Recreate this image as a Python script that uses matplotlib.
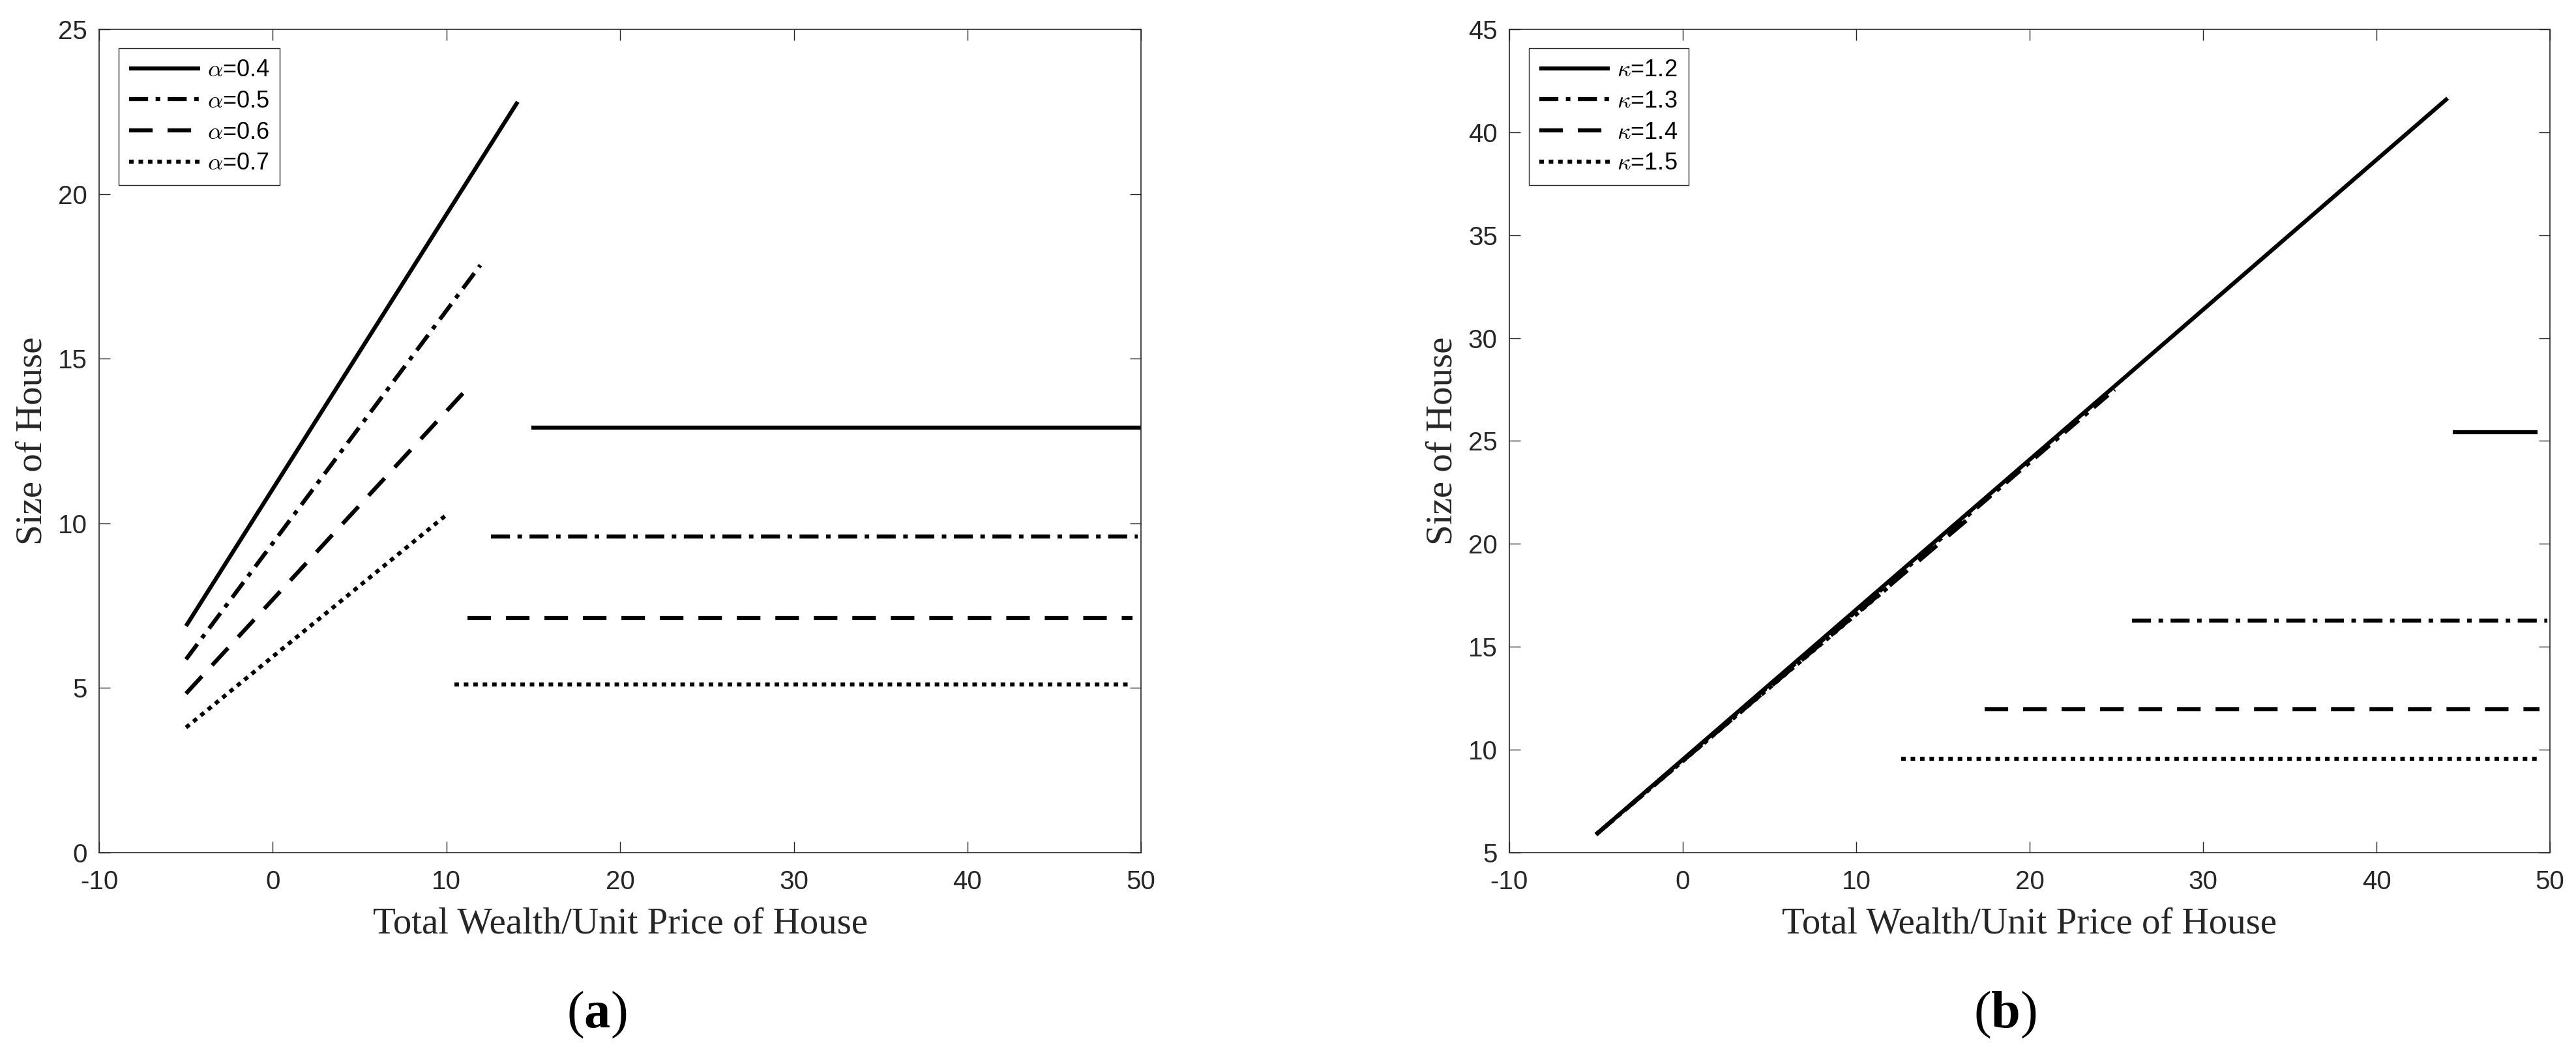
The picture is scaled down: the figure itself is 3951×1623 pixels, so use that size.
import matplotlib

matplotlib.use("Agg")

import matplotlib.pyplot as plt  # noqa: E402

# ---- data ------------------------------------------------------------------
# panel (a): house size vs wealth for several alpha values
ALPHA_LABELS = [r"$\alpha$=0.4", r"$\alpha$=0.5", r"$\alpha$=0.6", r"$\alpha$=0.7"]
A_RISE_X = [(-5.0, 14.1), (-5.0, 11.95), (-5.0, 10.95), (-5.0, 10.1)]
A_RISE_Y = [(6.88, 22.8), (5.87, 17.84), (4.83, 13.95), (3.80, 10.3)]
A_FLAT_X = [(14.9, 50.0), (12.55, 49.8), (11.2, 49.5), (10.45, 49.5)]
A_FLAT_Y = [12.9, 9.59, 7.13, 5.11]

# panel (b): same for several kappa values
KAPPA_LABELS = [r"$\kappa$=1.2", r"$\kappa$=1.3", r"$\kappa$=1.4", r"$\kappa$=1.5"]
B_RISE_X = [(-5.0, 44.1), (-5.0, 24.9), (-5.0, 17.0), (-5.0, 12.0)]
B_RISE_Y = [(5.88, 41.65), (5.88, 27.5), (5.88, 21.6), (5.88, 18.0)]
B_FLAT_X = [(44.4, 49.3), (25.9, 49.85), (17.4, 49.4), (12.6, 49.3)]
B_FLAT_Y = [25.44, 16.26, 11.98, 9.56]

X_TICKS = [-10, 0, 10, 20, 30, 40, 50]
A_Y_TICKS = [0, 5, 10, 15, 20, 25]
B_Y_TICKS = [5, 10, 15, 20, 25, 30, 35, 40, 45]

X_LABEL = "Total Wealth/Unit Price of House"
Y_LABEL = "Size of House"

# ---- styling ----------------------------------------------------------------
_INK = "#262626"
_LINE_WIDTH = 4.5
_STYLES = ["-", (0, (21, 8.3, 5, 8.3)), (0, (26, 16.5)), (0, (5, 5.4))]
_SANS = "Liberation Sans"
_SERIF = "Liberation Serif"

plt.rcParams["font.family"] = _SANS
plt.rcParams["axes.unicode_minus"] = False
plt.rcParams["lines.scale_dashes"] = False
plt.rcParams["mathtext.fontset"] = "custom"
plt.rcParams["mathtext.rm"] = _SERIF
plt.rcParams["mathtext.bf"] = _SERIF + ":bold"
plt.rcParams["mathtext.it"] = _SERIF + ":italic"


def _draw_panel(ax, labels, rise_x, rise_y, flat_x, flat_y, y_ticks):
    for label, rx, ry, fx, fy, style in zip(labels, rise_x, rise_y, flat_x, flat_y, _STYLES):
        ax.plot(rx, ry, linestyle=style, color="k", linewidth=_LINE_WIDTH,
                solid_capstyle="butt", dash_capstyle="butt", label=label)
        ax.plot(fx, [fy, fy], linestyle=style, color="k", linewidth=_LINE_WIDTH,
                solid_capstyle="butt", dash_capstyle="butt")

    ax.set_xlim(X_TICKS[0], X_TICKS[-1])
    ax.set_ylim(y_ticks[0], y_ticks[-1])
    ax.set_xticks(X_TICKS)
    ax.set_yticks(y_ticks)
    ax.tick_params(direction="in", top=True, right=True, length=12, width=1.0,
                   colors=_INK, labelsize=29)
    ax.tick_params(axis="x", pad=19)
    ax.tick_params(axis="y", pad=13)
    for spine in ax.spines.values():
        spine.set_color(_INK)
        spine.set_linewidth(1.2)

    ax.set_xlabel(X_LABEL, family=_SERIF, fontsize=41, color=_INK)
    ax.set_ylabel(Y_LABEL, family=_SERIF, fontsize=41, color=_INK)
    ax.xaxis.set_label_coords(0.5, -0.066)
    ax.yaxis.set_label_coords(-0.048, 0.5)

    legend = ax.legend(loc="upper left", bbox_to_anchor=(0.0188, 0.977), borderaxespad=0,
                       fancybox=False, framealpha=1, edgecolor=_INK,
                       prop={"family": _SANS, "size": 26},
                       handlelength=3.0, handletextpad=0.3, labelspacing=0.35,
                       borderpad=0.45)
    legend.get_frame().set_linewidth(1.0)
    for text in legend.get_texts():
        text.set_math_fontfamily("cm")


figure = plt.figure(figsize=(39.51, 16.23), dpi=100)
ax_a = figure.add_axes([0.0385, 0.1941, 0.4045, 0.7782])
ax_b = figure.add_axes([0.5859, 0.1941, 0.4040, 0.7782])

_draw_panel(ax_a, ALPHA_LABELS, A_RISE_X, A_RISE_Y, A_FLAT_X, A_FLAT_Y, A_Y_TICKS)
_draw_panel(ax_b, KAPPA_LABELS, B_RISE_X, B_RISE_Y, B_FLAT_X, B_FLAT_Y, B_Y_TICKS)

figure.text(0.2316, 0.0407, r"$(\mathbf{a})$", ha="center", va="center",
            fontsize=58, math_fontfamily="custom")
figure.text(0.7785, 0.0407, r"$(\mathbf{b})$", ha="center", va="center",
            fontsize=58, math_fontfamily="custom")

figure.savefig("out.png", dpi=100, facecolor="white")
